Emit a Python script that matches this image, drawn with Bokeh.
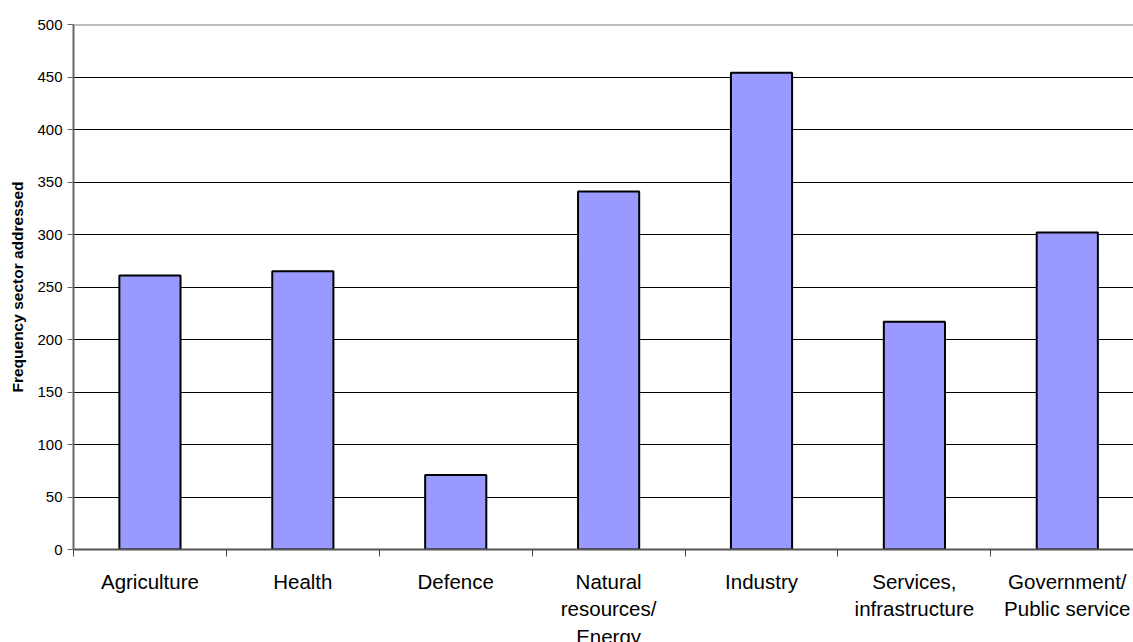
from bokeh.plotting import figure
from bokeh.models import FixedTicker, Span, Range1d
from bokeh.embed import file_html
from bokeh.resources import INLINE

categories = ["Agriculture", "Health", "Defence", "Natural\nresources/\nEnergy",
              "Industry", "Services,\ninfrastructure", "Government/\nPublic service"]
values = [261, 265, 71, 341, 454, 217, 302]
y_ticks = [0, 50, 100, 150, 200, 250, 300, 350, 400, 450, 500]

centers = [i + 0.5 for i in range(len(categories))]
bounds = list(range(len(categories) + 1))

p = figure(frame_width=1060, frame_height=525, output_backend="svg", toolbar_location=None,
           x_range=Range1d(0, 6.933), y_range=Range1d(0, 500),
           min_border_left=73, min_border_top=24, min_border_bottom=93, min_border_right=0)
p.outline_line_color = None
p.background_fill_color = "white"
p.border_fill_color = "white"

p.vbar(x=centers, top=values, width=0.4, bottom=0,
       fill_color="#9999FF", line_color="black", line_width=2)

# axes
p.xgrid.visible = False
p.ygrid.ticker = FixedTicker(ticks=y_ticks)
p.ygrid.grid_line_color = "black"
p.ygrid.grid_line_width = 1

p.yaxis.ticker = FixedTicker(ticks=y_ticks)
p.yaxis.axis_line_color = "#666666"
p.yaxis.axis_line_width = 2
p.yaxis.major_tick_line_color = "#666666"
p.yaxis.major_tick_out = 6
p.yaxis.major_tick_in = 0
p.yaxis.minor_tick_line_color = None
p.yaxis.major_label_text_font = "Liberation Sans"
p.yaxis.major_label_text_font_size = "15px"
p.yaxis.major_label_text_color = "black"
p.yaxis.major_label_standoff = 5
p.yaxis.axis_label = "Frequency sector addressed"
p.yaxis.axis_label_text_font = "Liberation Sans"
p.yaxis.axis_label_text_font_style = "bold"
p.yaxis.axis_label_text_font_size = "15.5px"
p.yaxis.axis_label_text_color = "black"
p.yaxis.axis_label_standoff = 8

p.xaxis.ticker = FixedTicker(ticks=centers, minor_ticks=bounds)
p.xaxis.major_label_overrides = {c: lab for c, lab in zip(centers, categories)}
p.xaxis.major_tick_line_color = None
p.xaxis.minor_tick_line_color = "#444444"
p.xaxis.minor_tick_out = 7
p.xaxis.minor_tick_in = 0
p.xaxis.axis_line_color = "#555555"
p.xaxis.axis_line_width = 2
p.xaxis.major_label_text_font = "Liberation Sans"
p.xaxis.major_label_text_font_size = "20.5px"
p.xaxis.major_label_text_color = "black"
p.xaxis.major_label_text_line_height = 1.2
p.xaxis.major_label_standoff = 13

top = Span(location=500, dimension="width", line_color="#808080", line_width=2)
p.add_layout(top)

open("out.html", "w").write(file_html(p, INLINE))
